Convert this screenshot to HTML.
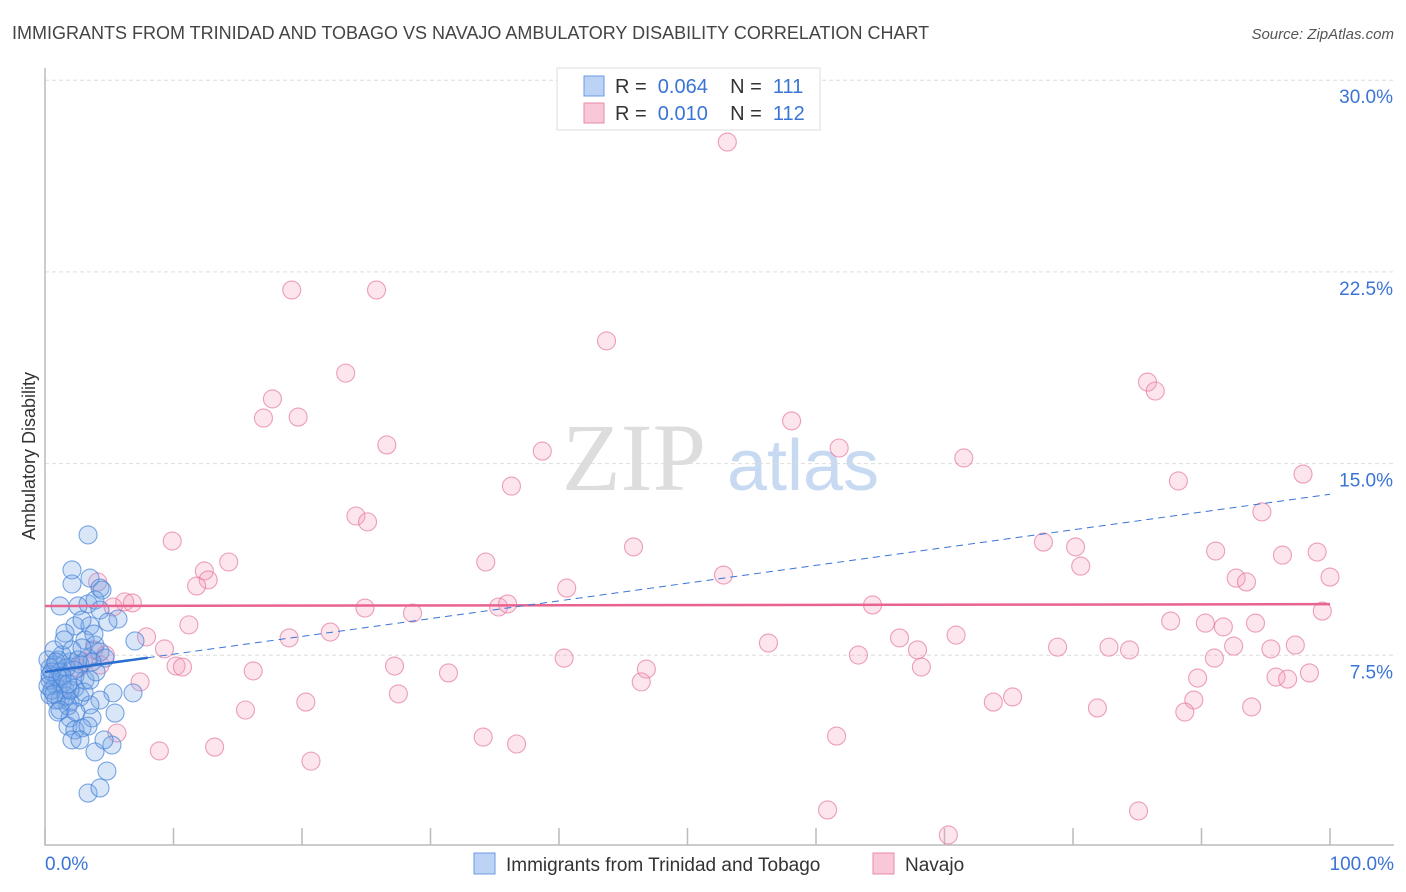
<!DOCTYPE html>
<html><head><meta charset="utf-8"><style>
body{margin:0;background:#fff;font-family:"Liberation Sans",sans-serif;}
#wrap{position:relative;width:1406px;height:892px;overflow:hidden;}
.pre{white-space:pre;}
</style></head><body>
<div id="wrap">
<svg id="chart" width="1406" height="892" xmlns="http://www.w3.org/2000/svg">
<text x="12" y="39" font-size="18" fill="#444">IMMIGRANTS FROM TRINIDAD AND TOBAGO VS NAVAJO AMBULATORY DISABILITY CORRELATION CHART</text>
<text x="1394" y="39" font-size="15" fill="#555" font-style="italic" text-anchor="end">Source: ZipAtlas.com</text>
<text x="35" y="456" font-size="18" fill="#333" text-anchor="middle" transform="rotate(-90 35 456)">Ambulatory Disability</text>
<g><text x="634" y="490" font-size="96" fill="#ddd" text-anchor="middle" font-family="Liberation Serif,serif">ZIP</text><text x="803" y="490" font-size="72" fill="#c8daf2" text-anchor="middle">atlas</text></g>
<g id="grid"></g><g id="axes"></g><g id="pink"></g><g id="blue"></g><g id="trends"></g>
<g>
<rect x="557" y="68" width="263" height="62" fill="#fff" stroke="#ddd"/>
<rect x="584" y="76" width="20" height="20" fill="#bcd3f5" stroke="#6a9be0"/>
<text class="pre" x="615" y="93" font-size="20" fill="#333">R =  <tspan fill="#3a74d6">0.064</tspan>    N =  <tspan fill="#3a74d6">111</tspan></text>
<rect x="584" y="103" width="20" height="20" fill="#f8c8d8" stroke="#e88aaa"/>
<text class="pre" x="615" y="120" font-size="20" fill="#333">R =  <tspan fill="#3a74d6">0.010</tspan>    N =  <tspan fill="#3a74d6">112</tspan></text>
</g>
<g>
<rect x="474" y="853" width="21" height="21" fill="#bcd3f5" stroke="#6a9be0"/>
<text x="506" y="871" font-size="19" fill="#333">Immigrants from Trinidad and Tobago</text>
<rect x="873" y="853" width="21" height="21" fill="#f8c8d8" stroke="#e88aaa"/>
<text x="905" y="871" font-size="19" fill="#333">Navajo</text>
</g>
</svg>
<script>
const yTicks=[7.5,15,22.5,30];
const yTickLabels=["7.5%","15.0%","22.5%","30.0%"];
const xLabels=["0.0%","100.0%"];
const blueX=[3.35,2.10,3.50,4.28,2.10,1.17,2.57,3.35,3.89,4.28,5.68,2.33,3.50,1.56,3.11,3.89,7.00,4.28,3.35,4.67,1.01,1.95,2.72,3.66,0.39,1.17,2.33,3.11,0.78,1.56,2.33,0.39,1.17,1.95,2.72,5.29,6.85,4.28,1.01,3.50,5.45,1.95,3.66,1.79,2.33,2.88,2.10,5.21,3.89,4.82,3.35,4.28,0.78,0.39,0.54,1.01,1.32,1.63,2.10,2.57,3.04,1.79,3.35,2.72,4.59,1.32,0.86,0.23,1.63,2.26,3.50,0.39,0.70,1.48,2.88,3.81,4.90,4.44,2.88,3.97,1.95,1.17,2.41,0.54,0.86,1.32,1.79,0.23,0.70];
const blueY=[12.21,10.84,10.52,10.13,10.29,9.43,9.43,9.51,9.66,9.27,8.92,8.65,8.65,8.37,8.10,7.90,8.06,7.63,7.39,7.39,7.32,7.24,7.16,7.24,7.00,6.85,6.69,6.53,6.34,6.14,6.22,5.95,5.75,5.67,5.87,6.03,6.03,5.75,5.28,5.56,5.24,5.05,5.05,4.73,4.58,4.66,4.19,3.99,3.72,2.97,2.11,2.31,7.12,6.53,6.14,6.61,7.51,7.00,7.71,7.32,6.06,5.52,4.73,4.19,4.19,6.38,5.75,7.32,5.91,6.92,6.53,6.73,7.71,8.10,8.88,8.33,8.80,10.05,7.79,6.85,6.14,5.36,5.28,6.85,7.24,6.69,6.38,6.30,5.99];
const pinkX=[53.1,19.2,25.8,43.7,23.4,85.8,86.4,17.7,17.0,19.7,58.1,26.6,38.7,61.8,71.5,97.9,88.2,36.3,24.2,25.1,94.7,9.9,45.8,77.7,80.2,91.1,96.3,99.0,34.3,14.3,12.4,80.6,52.8,92.7,93.5,100.0,4.1,12.7,11.8,40.6,6.2,6.8,5.3,24.9,35.3,36.0,64.4,28.6,99.4,87.6,90.3,94.2,91.7,11.2,22.2,7.9,19.0,70.9,66.5,56.3,92.5,78.8,82.8,84.4,95.4,97.3,67.9,9.3,3.8,63.3,40.4,91.0,10.2,10.7,16.2,27.2,46.8,68.2,31.4,95.8,89.7,98.4,46.4,7.4,3.0,2.6,96.7,27.5,20.3,75.3,73.8,89.4,15.6,81.9,88.7,93.9,5.6,61.6,34.1,36.7,13.2,8.9,20.7,60.9,85.1,70.3,4.3,4.7];
const pinkY=[27.58,21.79,21.79,19.80,18.54,18.19,17.84,17.53,16.78,16.82,16.67,15.73,15.49,15.61,15.22,14.59,14.32,14.12,12.95,12.72,13.11,11.97,11.74,11.93,11.74,11.58,11.42,11.54,11.15,11.15,10.80,10.99,10.64,10.52,10.37,10.56,10.37,10.45,10.21,10.13,9.59,9.55,9.39,9.35,9.39,9.51,9.47,9.15,9.23,8.84,8.76,8.76,8.61,8.69,8.41,8.22,8.18,8.29,8.18,7.98,7.86,7.82,7.82,7.71,7.75,7.90,7.71,7.75,7.71,7.51,7.39,7.39,7.08,7.04,6.89,7.08,6.96,7.04,6.81,6.65,6.61,6.81,6.46,6.46,7.24,7.00,6.57,5.99,5.67,5.87,5.67,5.75,5.36,5.44,5.28,5.48,4.46,4.34,4.30,4.03,3.91,3.76,3.36,1.45,1.41,0.47,7.12,7.51];
const blueTrend=[6.85,13.8];
const pinkTrend=[9.43,9.5];
const NS="http://www.w3.org/2000/svg";
function xs(v){return 45+12.85*v;}
function ys(v){return 847-25.56*v;}
function mk(tag,attrs,parent){const e=document.createElementNS(NS,tag);for(const k in attrs)e.setAttribute(k,attrs[k]);parent.appendChild(e);return e;}
const grid=document.getElementById('grid'),axes=document.getElementById('axes');
yTicks.forEach((t,i)=>{
 const l=mk('line',{x1:45,x2:1394,y1:ys(t),y2:ys(t),stroke:'#ddd','stroke-dasharray':'4,3'},grid);
 
 
 const tx=mk('text',{x:1393,y:ys(t)+23,'font-size':19,fill:'#3a74d6','text-anchor':'end'},grid);
 tx.textContent=yTickLabels[i];
 
 
});
const xa=mk('path',{d:'M45 68V845H1394',fill:'none',stroke:'#bbb','stroke-width':1.5},axes);


for(let i=0;i<=10;i++){
 const t=mk('line',{x1:xs(i*10),x2:xs(i*10),y1:828,y2:845,stroke:'#bbb','stroke-width':1.5},axes);
 
 
}
[[0,'start',45],[100,'end',1394]].forEach((a,i)=>{
 const tx=mk('text',{x:a[2],y:870,'font-size':19,fill:'#3a74d6','text-anchor':a[1]},axes);
 tx.textContent=xLabels[i];
 
 
});
function dots(X,Y,g,fill,stroke,name){
 X.forEach((x,i)=>{
  const c=mk('circle',{cx:xs(x),cy:ys(Y[i]),r:9,fill:fill,stroke:stroke,'stroke-width':1.1},g);
  
  
 });
}
dots(pinkX,pinkY,document.getElementById('pink'),'rgba(244,160,190,0.28)','rgba(230,120,160,0.7)','navajo-point');
dots(blueX,blueY,document.getElementById('blue'),'rgba(120,165,230,0.28)','rgba(70,130,215,0.7)','trinidad-point');
const tr=document.getElementById('trends');
const pl=mk('line',{x1:xs(0),y1:ys(pinkTrend[0]),x2:xs(100),y2:ys(pinkTrend[1]),stroke:'#e8638f','stroke-width':2.5},tr);


const bf=v=>blueTrend[0]+(blueTrend[1]-blueTrend[0])*v/100;
const bs=mk('line',{x1:xs(0),y1:ys(bf(0)),x2:xs(8),y2:ys(bf(8)),stroke:'#2a6fd0','stroke-width':2.5},tr);


const bd=mk('line',{x1:xs(8),y1:ys(bf(8)),x2:xs(100),y2:ys(bf(100)),stroke:'#3a74d6','stroke-width':1,'stroke-dasharray':'7,5'},tr);


</script>
</div></body></html>
